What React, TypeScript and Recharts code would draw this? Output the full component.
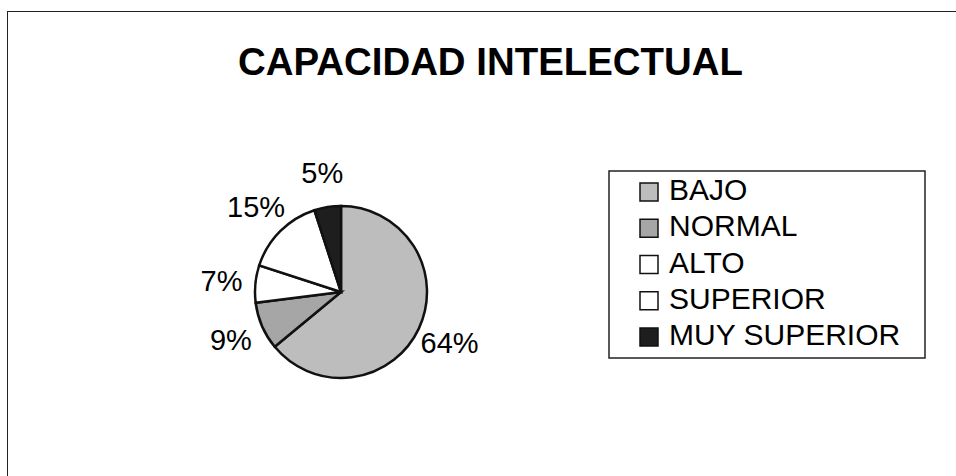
import React from "react";
import { PieChart, Pie, Cell, Legend } from "recharts";

const categories = ["BAJO", "NORMAL", "ALTO", "SUPERIOR", "MUY SUPERIOR"];
const percentages = [64, 9, 7, 15, 5];
const sliceColors = ["#bdbdbd", "#a6a6a6", "#ffffff", "#ffffff", "#1e1e1e"];
const chartTitle = "CAPACIDAD INTELECTUAL";

const data = categories.map((name, i) => ({ name, value: percentages[i] }));

const FONT = "'Liberation Sans', Arial, sans-serif";
const RADIAN = Math.PI / 180;

const renderLabel = (props: any) => {
  const { cx, cy, midAngle, outerRadius, value } = props;
  const r = outerRadius + 34;
  const x = cx + r * Math.cos(-midAngle * RADIAN);
  const y = cy + r * Math.sin(-midAngle * RADIAN);
  return (
    <text
      x={x}
      y={y}
      textAnchor="middle"
      dominantBaseline="central"
      fontFamily={FONT}
      fontSize={29}
      fill="#000"
    >
      {`${value}%`}
    </text>
  );
};

const LegendBox = () => {
  const rowH = 36.25;
  return (
    <svg width={318} height={190} style={{ display: "block" }}>
      <rect x={1} y={1} width={316} height={187} fill="#fff" stroke="#222" strokeWidth={1.5} />
      {categories.map((name, i) => {
        const base = 30 + i * rowH;
        return (
          <g key={name}>
            <rect
              x={32}
              y={base - 17}
              width={18}
              height={18}
              fill={sliceColors[i]}
              stroke="#111"
              strokeWidth={1.5}
            />
            <text x={61} y={base} fontFamily={FONT} fontSize={30} fill="#000">
              {name}
            </text>
          </g>
        );
      })}
    </svg>
  );
};

export default function App() {
  return (
    <div
      style={{
        position: "fixed",
        left: 0,
        top: 0,
        width: 956,
        height: 476,
        background: "#fff",
        overflow: "hidden",
      }}
    >
      <div
        style={{
          position: "absolute",
          left: 7,
          top: 11,
          width: 980,
          height: 500,
          borderLeft: "1.5px solid #222",
          borderTop: "1.5px solid #222",
        }}
      />
      <svg
        width={956}
        height={100}
        style={{ position: "absolute", left: 0, top: 0 }}
      >
        <text
          x={238}
          y={75}
          fontFamily={FONT}
          fontWeight="bold"
          fontSize={39}
          textLength={505}
          lengthAdjust="spacingAndGlyphs"
          fill="#000"
        >
          {chartTitle}
        </text>
      </svg>
      <div style={{ position: "absolute", left: 0, top: 0 }}>
        <PieChart
          width={956}
          height={476}
          margin={{ top: 0, right: 0, bottom: 0, left: 0 }}
        >
          <Pie
            data={data}
            dataKey="value"
            nameKey="name"
            cx={341}
            cy={292}
            outerRadius={86}
            startAngle={90}
            endAngle={-270}
            stroke="#111"
            strokeWidth={2.5}
            label={renderLabel}
            labelLine={false}
            isAnimationActive={false}
          >
            {data.map((d, i) => (
              <Cell key={d.name} fill={sliceColors[i]} />
            ))}
          </Pie>
          <Legend
            layout="vertical"
            content={() => <LegendBox />}
            wrapperStyle={{ position: "absolute", left: 608, top: 170, width: 318 }}
          />
        </PieChart>
      </div>
    </div>
  );
}
